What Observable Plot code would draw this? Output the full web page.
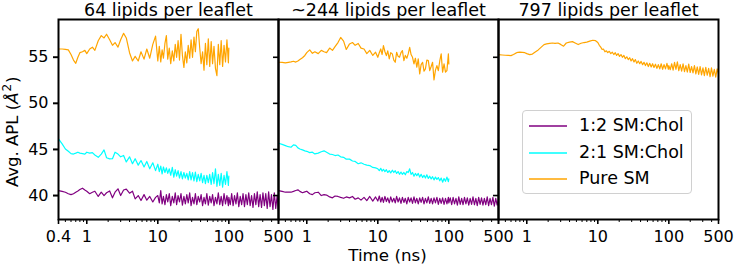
<!DOCTYPE html>
<html><head><meta charset="utf-8">
<script src="https://cdn.jsdelivr.net/npm/d3@7"></script>
<script src="https://cdn.jsdelivr.net/npm/@observablehq/plot@0.6"></script>
<style>
body{margin:0;background:#fff;font-family:"DejaVu Sans",sans-serif;}
#wrap{position:relative;width:735px;height:267px;overflow:hidden;}
#legend{position:absolute;left:522px;top:110px;width:170px;height:84px;box-sizing:border-box;border:1px solid #d0d0d0;border-radius:4px;background:rgba(255,255,255,0.85);font-family:"DejaVu Sans",sans-serif;font-size:17.5px;color:#000;}
#legend .row{position:absolute;left:0;height:20px;width:170px;}
#legend svg{position:absolute;left:6px;top:0;}
#legend span{position:absolute;left:56px;top:-1px;line-height:20px;white-space:nowrap;}
</style></head>
<body><div id="wrap"></div>
<script>
const panels = ["64 lipids per leaflet", "~244 lipids per leaflet", "797 lipids per leaflet"];
const seriesNames = ["1:2 SM:Chol", "2:1 SM:Chol", "Pure SM"];
const seriesColors = ["#800080", "#00ffff", "#ffa500"];
const yTicks = [40, 45, 50, 55];
const xMajorTicks = [0.4, 1, 10, 100, 500];
const xTickLabels = ["0.4", "1", "10", "100", "500"];
const xMinorTicks = [0.5,0.6,0.7,0.8,0.9,2,3,4,5,6,7,8,9,20,30,40,50,60,70,80,90,200,300,400];

// time samples (ns)
const tEarly = [0.4,0.45,0.5,0.55,0.6,0.65,0.7,0.75,0.8,0.87,0.94];
const tMid = [1,1.1,1.2,1.3,1.45,1.6,1.75,1.9,2.1,2.3,2.5,2.75,3,3.3,3.6,4,4.4,4.8,5.3,5.8,6.4,7,7.7,8.5,9.3];
const tLate = [10,10.5,11,11.5,12,12.6,13.2,13.8,14.5,15.2,16,16.8,17.6,18.4,19.3,20.2,21.2,22.2,23.3,24.4,25.6,26.8,28.1,29.4,30.8,32.3,33.8,35.4,37.1,38.9,40.7,42.7,44.7,46.8,49,51.4,53.8,56.4,59,61.8,64.8,67.9,71.1,74.5,78,81.7,85.6,89.7,94,98.5,100];
const tTail = [104.7,109.6,114.8,120.2,125.9,131.8,138,144.5,151.4,158.5,166,173.8,182,190.5,199.5,208.9,218.8,229.1,239.9,251.2,263,275.4,288.4,302,316.2,331.1,346.7,363.1,380.2,398.1,416.9,436.5,457.1,478.6,500];

// Panel 1 (64 lipids per leaflet)
const p1Chol12 = [40.54,40.45,40.36,40.2,40.1,40.2,40.36,40.5,40.65,40.8,40.6,
 40.47,40.2,40.35,40.47,39.9,40.36,40.0,40.3,40.5,39.75,40.36,40.73,40.0,40.6,40.7,40.25,40.47,39.64,40.0,39.46,40.1,39.5,39.9,39.3,39.8,
 40.0,39.2,40.54,39.1,39.9,39.0,40.1,39.3,40.2,38.9,39.9,39.2,40.3,39.0,40.0,39.3,40.2,38.95,39.9,39.1,40.1,39.2,40.3,38.9,39.8,39.1,40.2,39.0,39.9,39.3,40.1,38.9,39.8,39.1,40.2,38.95,39.9,39.2,40.1,38.9,39.8,39.1,40.3,39.0,39.9,38.9,40.2,39.1,40.0,38.9,39.8,
 39.0,40.2,38.9,40.0,39.1,40.3,38.8,39.9,39.0,40.2,38.8,40.1,39.0,40.3,38.9,40.0,38.7,40.2,39.0,40.4,38.8,40.1,38.7,40.3,38.9,40.2,38.6,40.4,38.8,40.1,38.5,40.3,38.6,40.0,38.4];
const p1Chol21 = [46.15,45.6,45.05,44.8,44.55,44.5,44.6,44.7,44.6,44.55,44.5,
 44.7,44.6,44.65,44.4,44.15,44.5,44.95,44.1,43.98,44.0,44.7,44.5,44.2,44.35,43.65,44.2,43.45,44.0,43.3,43.8,43.1,43.7,42.9,43.55,42.7,
 43.4,42.6,43.2,42.35,43.1,42.5,43.0,42.4,42.9,42.2,43.05,42.0,42.8,42.1,42.7,41.9,42.6,41.8,42.5,41.9,42.4,41.7,42.6,41.7,42.5,41.6,42.55,41.5,42.3,41.6,42.4,41.4,42.2,41.3,42.2,41.4,42.3,41.2,42.5,41.3,42.9,41.0,42.3,41.1,42.4,40.9,42.2,41.2,42.6,41.1,42.1];
const p1Pure = [55.9,55.9,55.85,55.8,55.3,54.7,54.35,55.0,55.5,55.6,55.75,
 55.4,55.9,56.1,55.75,56.8,57.35,57.1,57.5,56.9,56.3,56.6,56.1,56.9,57.6,57.1,55.5,54.6,55.1,54.6,55.6,54.8,55.9,54.9,56.4,57.3,
 54.6,56.2,54.5,55.8,54.9,56.5,57.35,54.8,56.0,54.3,55.7,54.6,56.4,55.0,56.8,54.7,57.5,55.2,53.9,55.6,54.4,56.3,54.9,56.9,55.0,57.2,55.6,57.8,58.1,56.0,54.3,55.6,53.6,56.5,54.2,57.0,54.0,56.7,54.3,56.2,53.8,53.0,56.4,54.2,56.8,54.0,56.3,54.5,56.9,54.4,56.0];

// Panel 2 (~244 lipids per leaflet)
const p2Chol12 = [40.54,40.45,40.36,40.38,40.36,40.45,40.55,40.62,40.45,40.3,40.4,
 40.47,40.2,40.1,40.3,40.36,40.0,40.1,40.05,39.85,39.75,39.95,39.9,39.8,39.7,39.85,39.75,39.9,39.6,39.75,39.5,39.8,39.45,39.9,39.4,39.85,
 39.4,39.95,39.3,39.8,39.25,39.9,39.35,39.75,39.2,39.85,39.3,39.7,39.2,39.9,39.3,39.75,39.15,39.8,39.25,39.7,39.1,39.8,39.3,39.75,39.15,39.85,39.2,39.7,39.1,39.75,39.25,39.8,39.1,39.7,39.2,39.85,39.15,39.7,39.1,39.75,39.2,39.8,39.05,39.7,39.15,39.75,39.05,39.7,39.1,39.8,39.2,
 39.75,39.0,39.8,39.1,39.7,38.95,39.85,39.05,39.7,39.0,39.8,39.1,39.75,38.95,39.7,39.05,39.85,39.0,39.7,38.9,39.8,39.05,39.75,38.95,39.7,39.0,39.85,38.9,39.7,39.0,39.8,38.85,39.7,38.95,39.6];
const p2Chol21 = [45.67,45.55,45.42,45.3,45.24,45.5,45.45,45.17,45.05,44.95,44.85,
 44.8,44.66,44.7,44.52,44.6,44.75,44.85,44.7,44.5,44.45,44.34,44.4,44.2,44.15,43.95,43.95,43.75,43.7,43.45,43.55,43.4,43.3,43.25,43.05,43.0,
 42.9,42.7,42.95,42.65,42.85,42.6,42.8,42.5,42.7,42.45,42.75,42.5,42.7,42.4,42.6,42.3,42.55,42.3,42.5,42.25,42.6,42.5,42.9,42.3,42.5,42.1,42.4,42.15,42.4,42.0,42.3,41.95,42.2,41.9,42.25,41.85,42.1,41.8,42.05,41.7,42.0,41.75,41.95,41.6,41.9,41.45,41.85,41.55,42.0,41.5,41.8];
const p2Pure = [54.46,54.45,54.4,54.45,54.5,54.57,54.48,54.6,54.75,54.95,55.2,
 55.5,55.8,55.43,55.6,55.4,55.75,55.6,55.5,56.0,55.75,56.15,56.6,57.15,56.75,55.85,56.45,56.6,56.3,56.5,56.0,55.9,55.4,55.75,55.2,55.55,
 55.0,55.5,55.9,55.3,56.27,55.6,55.18,55.7,54.82,55.5,55.37,54.7,54.46,55.54,55.1,55.0,55.5,55.73,54.64,55.2,54.9,55.37,56.08,55.3,55.0,54.28,54.9,53.92,54.82,53.2,54.2,54.46,53.5,53.74,54.7,54.64,53.56,54.0,54.46,52.55,53.6,54.1,53.56,54.6,55.37,53.38,54.28,53.4,53.56,55.37,54.28];

// Panel 3 (797 lipids per leaflet)
const p3Pure = [55.29,55.25,55.22,55.2,55.18,55.3,55.45,55.54,55.55,55.54,55.5,
 55.4,55.29,55.35,55.55,55.8,56.1,56.38,56.45,56.5,56.55,56.5,56.55,56.4,56.2,56.55,56.65,56.7,56.55,56.38,56.52,56.6,56.65,56.75,56.85,56.8,
 56.6,56.3,56.1,55.85,55.9,55.6,55.7,55.5,55.65,55.4,55.55,55.3,55.5,55.2,55.4,55.1,55.3,55.0,55.2,54.85,55.05,54.75,54.95,54.6,54.85,54.5,54.75,54.35,54.6,54.3,54.55,54.2,54.45,54.1,54.4,54.0,54.35,53.95,54.3,53.9,54.25,53.8,54.2,53.75,54.3,53.7,54.2,53.75,54.35,53.7,54.1,
 53.65,54.3,53.6,54.45,53.7,54.5,53.55,54.2,53.5,54.3,53.45,54.1,53.4,54.25,53.35,54.0,53.3,54.1,53.2,53.95,53.15,54.0,53.1,53.85,53.0,53.9,53.05,53.8,52.9,53.85,52.95,53.7,52.85,53.75,53.2];

const times100 = [...tEarly, ...tMid, ...tLate];
const times500 = [...times100, ...tTail];

const runs = [
  {panel: panels[0], series: seriesNames[0], t: times500, v: p1Chol12},
  {panel: panels[0], series: seriesNames[1], t: times100, v: p1Chol21},
  {panel: panels[0], series: seriesNames[2], t: times100, v: p1Pure},
  {panel: panels[1], series: seriesNames[0], t: times500, v: p2Chol12},
  {panel: panels[1], series: seriesNames[1], t: times100, v: p2Chol21},
  {panel: panels[1], series: seriesNames[2], t: times100, v: p2Pure},
  {panel: panels[2], series: seriesNames[2], t: times500, v: p3Pure}
];
const data = runs.flatMap(r => r.v.map((v, i) => ({panel: r.panel, series: r.series, t: r.t[i], v})));

// tick labels per panel: first panel shows 0.4, the others start at 1
const xLabelRows = panels.flatMap((p, pi) => xMajorTicks
  .map((t, i) => ({panel: p, t, label: xTickLabels[i]}))
  .filter(r => pi === 0 || r.t !== xMajorTicks[0]));

const chart = Plot.plot({
  width: 735, height: 267,
  marginLeft: 57, marginRight: 17, marginTop: 19, marginBottom: 48,
  style: {fontFamily: "DejaVu Sans", fontSize: "16px", background: "transparent", overflow: "visible", color: "black"},
  x: {type: "log", domain: [0.4, 500]},
  y: {domain: [37.4, 59.1]},
  fx: {domain: panels, padding: 0, axis: null},
  color: {domain: seriesNames, range: seriesColors},
  marks: [
    Plot.line(data, {x: "t", y: "v", z: "series", stroke: "series", fx: "panel", strokeWidth: 1.2, clip: true}),
    Plot.axisX({ticks: xMinorTicks, tickSize: 3, tickFormat: () => "", strokeWidth: 1, label: null}),
    Plot.axisX({ticks: xMajorTicks, tickSize: 5, tickFormat: () => "", strokeWidth: 1.6, label: null}),
    Plot.text(xLabelRows, {fx: "panel", x: "t", text: "label", frameAnchor: "bottom", lineAnchor: "top", dy: 11, fontSize: 16, fill: "black"}),
    Plot.axisY({ticks: yTicks, tickSize: 5, tickPadding: 5, strokeWidth: 1.6, fontSize: 16, label: null}),
    Plot.axisY({ticks: yTicks, tickSize: 5, tickFormat: () => "", strokeWidth: 1.6, label: null, facetAnchor: null}),
    Plot.frame({stroke: "black", strokeWidth: 2}),
    Plot.text(panels, {fx: d => d, text: d => d, frameAnchor: "top", lineAnchor: "bottom", dy: -4, fontSize: 17.5, fill: "black"})
  ]
});

const wrap = document.getElementById("wrap");
wrap.appendChild(chart);

const svg = d3.select(chart);
svg.append("text")
  .attr("x", 387.5).attr("y", 260.5)
  .attr("text-anchor", "middle")
  .style("font-size", "16.7px").style("font-family", "DejaVu Sans").attr("fill", "black")
  .text("Time (ns)");
const yl = svg.append("text")
  .attr("transform", "translate(18,187) rotate(-90)")
  .attr("text-anchor", "start")
  .style("font-size", "16.5px").style("font-family", "DejaVu Sans").attr("fill", "black");
yl.append("tspan").text("Avg. APL (");
yl.append("tspan").style("font-style", "italic").text("Å");
yl.append("tspan").attr("dy", "-7").attr("dx", "1").style("font-size", "12px").text("2");
yl.append("tspan").attr("dy", "7").attr("dx", "1").text(")");

// legend
const legend = document.createElement("div");
legend.id = "legend";
seriesNames.forEach((name, i) => {
  const row = document.createElement("div");
  row.className = "row";
  row.style.top = (5 + i * 26.5) + "px";
  row.innerHTML = `<svg width="40" height="20"><line x1="0" x2="38" y1="10" y2="10" stroke="${seriesColors[i]}" stroke-width="1.5"/></svg><span>${name}</span>`;
  legend.appendChild(row);
});
wrap.appendChild(legend);
</script>
</body></html>
